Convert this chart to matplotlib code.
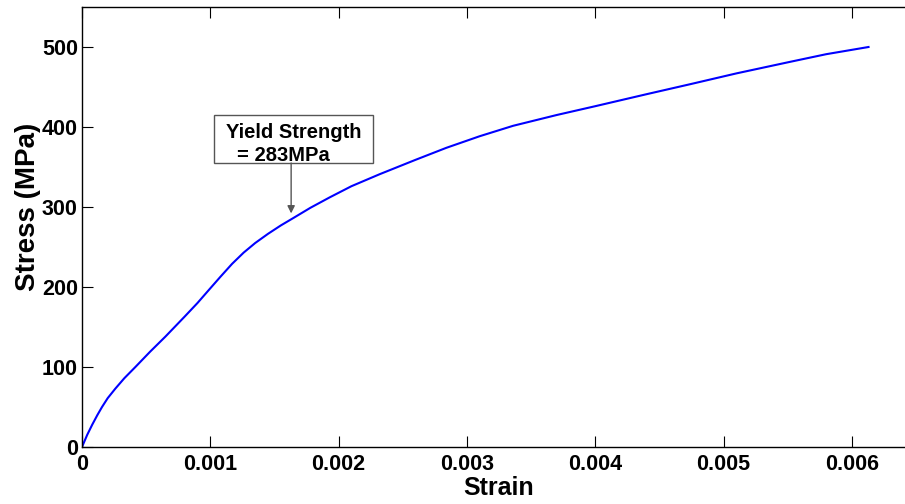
import numpy as np
import matplotlib
matplotlib.use("Agg")
import matplotlib.pyplot as plt
from matplotlib.patches import Rectangle

plt.rcParams['font.family'] = ['Liberation Sans', 'DejaVu Sans']
plt.rcParams['font.weight'] = 'bold'

# stress-strain curve
strain = [0.0, 0.00004, 0.00008, 0.00012, 0.000156, 0.0002, 0.00026, 0.00033,
          0.000416, 0.00053, 0.00065, 0.0008, 0.0009, 0.000987, 0.00108, 0.00117,
          0.00126, 0.00135, 0.00145, 0.00155, 0.00165, 0.00178, 0.00193, 0.0021,
          0.00232, 0.0026, 0.00284, 0.0031, 0.00336, 0.0037, 0.004, 0.0044,
          0.00474, 0.0051, 0.00552, 0.0058, 0.00613]
stress = [0.0, 15, 28, 40, 50, 61, 73, 86,
          100, 119, 138, 163, 180, 196, 213, 229,
          243, 255, 266.5, 277, 286.5, 299, 312, 326,
          341, 359, 374, 388.5, 401.5, 415, 426, 441,
          453.5, 467, 481.5, 491, 500]

yield_strain = 0.00163
yield_stress = 292
xticks = [0, 0.001, 0.002, 0.003, 0.004, 0.005, 0.006]
xticklabels = ['0', '0.001', '0.002', '0.003', '0.004', '0.005', '0.006']
yticks = [0, 100, 200, 300, 400, 500]

fig = plt.figure(figsize=(9.05, 5.04), dpi=100)
ax = fig.add_axes([82/905, 1 - 447/504, 834/905, 440/504])

ax.plot(strain, stress, color='#0000ff', lw=1.5)

ax.set_xlim(0, 0.0065)
ax.set_ylim(0, 550)
ax.set_xticks(xticks)
ax.set_xticklabels(xticklabels)
ax.set_yticks(yticks)
ax.tick_params(direction='in', length=8, width=0.8, top=True, right=True,
               labelsize=15.5)
ax.tick_params(axis='x', pad=5)
ax.tick_params(axis='y', pad=3)
for lab in ax.get_xticklabels() + ax.get_yticklabels():
    lab.set_fontweight('bold')
for s in ax.spines.values():
    s.set_linewidth(1.0)

ax.set_xlabel('Strain', fontsize=18, fontweight='bold')
ax.set_ylabel('Stress (MPa)', fontsize=20, fontweight='bold')
ax.xaxis.set_label_coords(0.5, -0.066)
ax.yaxis.set_label_coords(-0.049, 0.545)

# yield strength callout
ax.add_patch(Rectangle((0.00103, 355), 0.00124, 60, fc='white', ec='#555555',
                       lw=1, zorder=3))
ax.text(0.001122, 386, 'Yield Strength', fontsize=14.5, fontweight='bold',
        va='baseline', ha='left', zorder=4)
ax.text(0.001206, 357, '= 283MPa', fontsize=14.5, fontweight='bold',
        va='baseline', ha='left', zorder=4)
ax.annotate('', xy=(yield_strain, yield_stress), xytext=(yield_strain, 355),
            arrowprops=dict(arrowstyle='-|>', color='#555555', lw=1,
                            mutation_scale=11, shrinkA=0, shrinkB=0))

fig.savefig('out.png', dpi=100)
